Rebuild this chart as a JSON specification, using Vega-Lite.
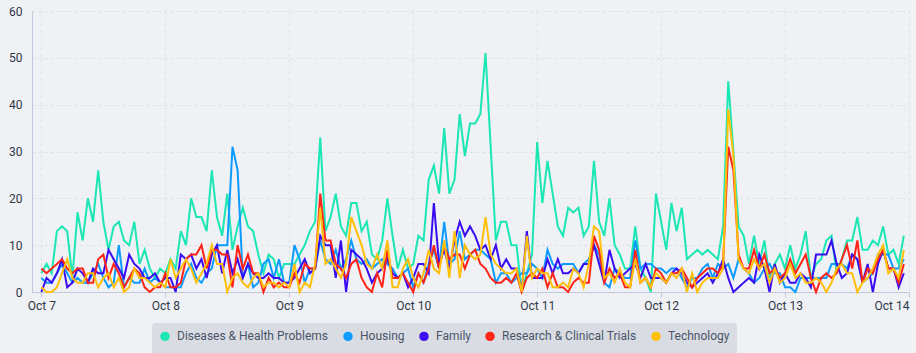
{
"$schema":"https://vega.github.io/schema/vega-lite/v6.json",
"width":877,"height":281,
"autosize":"none",
"padding":{"left":32,"top":11,"right":7,"bottom":61},
"background":"#EFF1F4",
"config":{"view":{"stroke":null},"font":"Roboto"},
"data":{"values":[
{"t":"2024-10-07T00:00","Diseases & Health Problems":4,"Housing":3,"Family":0,"Research & Clinical Trials":5,"Technology":1},
{"t":"2024-10-07T01:00","Diseases & Health Problems":6,"Housing":2,"Family":3,"Research & Clinical Trials":4,"Technology":0},
{"t":"2024-10-07T02:00","Diseases & Health Problems":4,"Housing":2,"Family":2,"Research & Clinical Trials":5,"Technology":0},
{"t":"2024-10-07T03:00","Diseases & Health Problems":13,"Housing":4,"Family":4,"Research & Clinical Trials":6,"Technology":1},
{"t":"2024-10-07T04:00","Diseases & Health Problems":14,"Housing":6,"Family":7,"Research & Clinical Trials":7,"Technology":4},
{"t":"2024-10-07T05:00","Diseases & Health Problems":13,"Housing":4,"Family":1,"Research & Clinical Trials":5,"Technology":7},
{"t":"2024-10-07T06:00","Diseases & Health Problems":3,"Housing":2,"Family":2,"Research & Clinical Trials":4,"Technology":3},
{"t":"2024-10-07T07:00","Diseases & Health Problems":17,"Housing":3,"Family":5,"Research & Clinical Trials":5,"Technology":2},
{"t":"2024-10-07T08:00","Diseases & Health Problems":11,"Housing":2,"Family":4,"Research & Clinical Trials":5,"Technology":2},
{"t":"2024-10-07T09:00","Diseases & Health Problems":20,"Housing":2,"Family":2,"Research & Clinical Trials":2,"Technology":4},
{"t":"2024-10-07T10:00","Diseases & Health Problems":15,"Housing":4,"Family":5,"Research & Clinical Trials":2,"Technology":4},
{"t":"2024-10-07T11:00","Diseases & Health Problems":26,"Housing":6,"Family":4,"Research & Clinical Trials":7,"Technology":1},
{"t":"2024-10-07T12:00","Diseases & Health Problems":15,"Housing":3,"Family":4,"Research & Clinical Trials":8,"Technology":3},
{"t":"2024-10-07T13:00","Diseases & Health Problems":9,"Housing":1,"Family":9,"Research & Clinical Trials":3,"Technology":4},
{"t":"2024-10-07T14:00","Diseases & Health Problems":14,"Housing":2,"Family":7,"Research & Clinical Trials":6,"Technology":1},
{"t":"2024-10-07T15:00","Diseases & Health Problems":15,"Housing":10,"Family":5,"Research & Clinical Trials":4,"Technology":3},
{"t":"2024-10-07T16:00","Diseases & Health Problems":11,"Housing":1,"Family":3,"Research & Clinical Trials":1,"Technology":0},
{"t":"2024-10-07T17:00","Diseases & Health Problems":10,"Housing":3,"Family":8,"Research & Clinical Trials":3,"Technology":1},
{"t":"2024-10-07T18:00","Diseases & Health Problems":15,"Housing":2,"Family":6,"Research & Clinical Trials":5,"Technology":5},
{"t":"2024-10-07T19:00","Diseases & Health Problems":6,"Housing":2,"Family":5,"Research & Clinical Trials":4,"Technology":3},
{"t":"2024-10-07T20:00","Diseases & Health Problems":9,"Housing":5,"Family":3,"Research & Clinical Trials":1,"Technology":3},
{"t":"2024-10-07T21:00","Diseases & Health Problems":5,"Housing":2,"Family":3,"Research & Clinical Trials":0,"Technology":2},
{"t":"2024-10-07T22:00","Diseases & Health Problems":3,"Housing":3,"Family":4,"Research & Clinical Trials":1,"Technology":1},
{"t":"2024-10-07T23:00","Diseases & Health Problems":5,"Housing":2,"Family":2,"Research & Clinical Trials":1,"Technology":2},
{"t":"2024-10-08T00:00","Diseases & Health Problems":4,"Housing":1,"Family":3,"Research & Clinical Trials":4,"Technology":1},
{"t":"2024-10-08T01:00","Diseases & Health Problems":7,"Housing":1,"Family":3,"Research & Clinical Trials":1,"Technology":7},
{"t":"2024-10-08T02:00","Diseases & Health Problems":5,"Housing":1,"Family":0,"Research & Clinical Trials":1,"Technology":3},
{"t":"2024-10-08T03:00","Diseases & Health Problems":13,"Housing":1,"Family":8,"Research & Clinical Trials":2,"Technology":5},
{"t":"2024-10-08T04:00","Diseases & Health Problems":10,"Housing":4,"Family":7,"Research & Clinical Trials":7,"Technology":7},
{"t":"2024-10-08T05:00","Diseases & Health Problems":20,"Housing":6,"Family":8,"Research & Clinical Trials":8,"Technology":5},
{"t":"2024-10-08T06:00","Diseases & Health Problems":16,"Housing":3,"Family":5,"Research & Clinical Trials":8,"Technology":2},
{"t":"2024-10-08T07:00","Diseases & Health Problems":16,"Housing":2,"Family":7,"Research & Clinical Trials":10,"Technology":4},
{"t":"2024-10-08T08:00","Diseases & Health Problems":13,"Housing":4,"Family":3,"Research & Clinical Trials":5,"Technology":6},
{"t":"2024-10-08T09:00","Diseases & Health Problems":26,"Housing":5,"Family":8,"Research & Clinical Trials":9,"Technology":10},
{"t":"2024-10-08T10:00","Diseases & Health Problems":16,"Housing":10,"Family":10,"Research & Clinical Trials":9,"Technology":6},
{"t":"2024-10-08T11:00","Diseases & Health Problems":12,"Housing":10,"Family":4,"Research & Clinical Trials":8,"Technology":6},
{"t":"2024-10-08T12:00","Diseases & Health Problems":21,"Housing":10,"Family":9,"Research & Clinical Trials":8,"Technology":0},
{"t":"2024-10-08T13:00","Diseases & Health Problems":9,"Housing":31,"Family":4,"Research & Clinical Trials":1,"Technology":3},
{"t":"2024-10-08T14:00","Diseases & Health Problems":14,"Housing":26,"Family":7,"Research & Clinical Trials":10,"Technology":4},
{"t":"2024-10-08T15:00","Diseases & Health Problems":18,"Housing":3,"Family":3,"Research & Clinical Trials":5,"Technology":2},
{"t":"2024-10-08T16:00","Diseases & Health Problems":14,"Housing":6,"Family":6,"Research & Clinical Trials":8,"Technology":1},
{"t":"2024-10-08T17:00","Diseases & Health Problems":13,"Housing":1,"Family":4,"Research & Clinical Trials":4,"Technology":3},
{"t":"2024-10-08T18:00","Diseases & Health Problems":8,"Housing":2,"Family":3,"Research & Clinical Trials":4,"Technology":4},
{"t":"2024-10-08T19:00","Diseases & Health Problems":4,"Housing":6,"Family":3,"Research & Clinical Trials":0,"Technology":1},
{"t":"2024-10-08T20:00","Diseases & Health Problems":8,"Housing":7,"Family":4,"Research & Clinical Trials":3,"Technology":2},
{"t":"2024-10-08T21:00","Diseases & Health Problems":7,"Housing":3,"Family":3,"Research & Clinical Trials":1,"Technology":2},
{"t":"2024-10-08T22:00","Diseases & Health Problems":3,"Housing":7,"Family":3,"Research & Clinical Trials":2,"Technology":1},
{"t":"2024-10-08T23:00","Diseases & Health Problems":6,"Housing":2,"Family":2,"Research & Clinical Trials":1,"Technology":2},
{"t":"2024-10-09T00:00","Diseases & Health Problems":6,"Housing":2,"Family":2,"Research & Clinical Trials":1,"Technology":1},
{"t":"2024-10-09T01:00","Diseases & Health Problems":6,"Housing":10,"Family":3,"Research & Clinical Trials":4,"Technology":6},
{"t":"2024-10-09T02:00","Diseases & Health Problems":8,"Housing":7,"Family":5,"Research & Clinical Trials":2,"Technology":0},
{"t":"2024-10-09T03:00","Diseases & Health Problems":10,"Housing":2,"Family":7,"Research & Clinical Trials":6,"Technology":2},
{"t":"2024-10-09T04:00","Diseases & Health Problems":13,"Housing":5,"Family":4,"Research & Clinical Trials":5,"Technology":1},
{"t":"2024-10-09T05:00","Diseases & Health Problems":15,"Housing":5,"Family":5,"Research & Clinical Trials":5,"Technology":6},
{"t":"2024-10-09T06:00","Diseases & Health Problems":33,"Housing":11,"Family":12,"Research & Clinical Trials":21,"Technology":18},
{"t":"2024-10-09T07:00","Diseases & Health Problems":13,"Housing":7,"Family":10,"Research & Clinical Trials":11,"Technology":6},
{"t":"2024-10-09T08:00","Diseases & Health Problems":16,"Housing":6,"Family":10,"Research & Clinical Trials":11,"Technology":7},
{"t":"2024-10-09T09:00","Diseases & Health Problems":21,"Housing":9,"Family":3,"Research & Clinical Trials":6,"Technology":5},
{"t":"2024-10-09T10:00","Diseases & Health Problems":14,"Housing":5,"Family":11,"Research & Clinical Trials":5,"Technology":3},
{"t":"2024-10-09T11:00","Diseases & Health Problems":12,"Housing":7,"Family":0,"Research & Clinical Trials":3,"Technology":6},
{"t":"2024-10-09T12:00","Diseases & Health Problems":19,"Housing":11,"Family":9,"Research & Clinical Trials":6,"Technology":16},
{"t":"2024-10-09T13:00","Diseases & Health Problems":19,"Housing":7,"Family":8,"Research & Clinical Trials":7,"Technology":13},
{"t":"2024-10-09T14:00","Diseases & Health Problems":13,"Housing":6,"Family":7,"Research & Clinical Trials":3,"Technology":10},
{"t":"2024-10-09T15:00","Diseases & Health Problems":15,"Housing":7,"Family":5,"Research & Clinical Trials":1,"Technology":6},
{"t":"2024-10-09T16:00","Diseases & Health Problems":8,"Housing":5,"Family":2,"Research & Clinical Trials":0,"Technology":5},
{"t":"2024-10-09T17:00","Diseases & Health Problems":7,"Housing":6,"Family":4,"Research & Clinical Trials":4,"Technology":8},
{"t":"2024-10-09T18:00","Diseases & Health Problems":11,"Housing":7,"Family":5,"Research & Clinical Trials":1,"Technology":5},
{"t":"2024-10-09T19:00","Diseases & Health Problems":20,"Housing":6,"Family":7,"Research & Clinical Trials":9,"Technology":11},
{"t":"2024-10-09T20:00","Diseases & Health Problems":12,"Housing":5,"Family":4,"Research & Clinical Trials":3,"Technology":1},
{"t":"2024-10-09T21:00","Diseases & Health Problems":5,"Housing":3,"Family":3,"Research & Clinical Trials":3,"Technology":1},
{"t":"2024-10-09T22:00","Diseases & Health Problems":9,"Housing":4,"Family":4,"Research & Clinical Trials":4,"Technology":5},
{"t":"2024-10-09T23:00","Diseases & Health Problems":5,"Housing":5,"Family":1,"Research & Clinical Trials":2,"Technology":7},
{"t":"2024-10-10T00:00","Diseases & Health Problems":6,"Housing":1,"Family":3,"Research & Clinical Trials":0,"Technology":3},
{"t":"2024-10-10T01:00","Diseases & Health Problems":12,"Housing":4,"Family":6,"Research & Clinical Trials":4,"Technology":1},
{"t":"2024-10-10T02:00","Diseases & Health Problems":11,"Housing":2,"Family":6,"Research & Clinical Trials":2,"Technology":4},
{"t":"2024-10-10T03:00","Diseases & Health Problems":24,"Housing":6,"Family":4,"Research & Clinical Trials":5,"Technology":9},
{"t":"2024-10-10T04:00","Diseases & Health Problems":27,"Housing":9,"Family":19,"Research & Clinical Trials":10,"Technology":5},
{"t":"2024-10-10T05:00","Diseases & Health Problems":21,"Housing":5,"Family":6,"Research & Clinical Trials":5,"Technology":4},
{"t":"2024-10-10T06:00","Diseases & Health Problems":35,"Housing":15,"Family":9,"Research & Clinical Trials":10,"Technology":11},
{"t":"2024-10-10T07:00","Diseases & Health Problems":21,"Housing":6,"Family":5,"Research & Clinical Trials":7,"Technology":3},
{"t":"2024-10-10T08:00","Diseases & Health Problems":24,"Housing":7,"Family":11,"Research & Clinical Trials":8,"Technology":13},
{"t":"2024-10-10T09:00","Diseases & Health Problems":38,"Housing":13,"Family":15,"Research & Clinical Trials":8,"Technology":3},
{"t":"2024-10-10T10:00","Diseases & Health Problems":29,"Housing":7,"Family":12,"Research & Clinical Trials":5,"Technology":10},
{"t":"2024-10-10T11:00","Diseases & Health Problems":36,"Housing":8,"Family":14,"Research & Clinical Trials":8,"Technology":8},
{"t":"2024-10-10T12:00","Diseases & Health Problems":36,"Housing":9,"Family":12,"Research & Clinical Trials":9,"Technology":7},
{"t":"2024-10-10T13:00","Diseases & Health Problems":38,"Housing":9,"Family":9,"Research & Clinical Trials":6,"Technology":8},
{"t":"2024-10-10T14:00","Diseases & Health Problems":51,"Housing":8,"Family":10,"Research & Clinical Trials":5,"Technology":16},
{"t":"2024-10-10T15:00","Diseases & Health Problems":31,"Housing":7,"Family":7,"Research & Clinical Trials":3,"Technology":8},
{"t":"2024-10-10T16:00","Diseases & Health Problems":11,"Housing":2,"Family":10,"Research & Clinical Trials":2,"Technology":6},
{"t":"2024-10-10T17:00","Diseases & Health Problems":15,"Housing":4,"Family":5,"Research & Clinical Trials":2,"Technology":5},
{"t":"2024-10-10T18:00","Diseases & Health Problems":15,"Housing":4,"Family":7,"Research & Clinical Trials":3,"Technology":4},
{"t":"2024-10-10T19:00","Diseases & Health Problems":10,"Housing":2,"Family":5,"Research & Clinical Trials":2,"Technology":4},
{"t":"2024-10-10T20:00","Diseases & Health Problems":10,"Housing":3,"Family":5,"Research & Clinical Trials":4,"Technology":5},
{"t":"2024-10-10T21:00","Diseases & Health Problems":0,"Housing":4,"Family":0,"Research & Clinical Trials":0,"Technology":0},
{"t":"2024-10-10T22:00","Diseases & Health Problems":4,"Housing":4,"Family":13,"Research & Clinical Trials":3,"Technology":12},
{"t":"2024-10-10T23:00","Diseases & Health Problems":8,"Housing":6,"Family":3,"Research & Clinical Trials":4,"Technology":3},
{"t":"2024-10-11T00:00","Diseases & Health Problems":32,"Housing":5,"Family":3,"Research & Clinical Trials":3,"Technology":5},
{"t":"2024-10-11T01:00","Diseases & Health Problems":19,"Housing":3,"Family":3,"Research & Clinical Trials":5,"Technology":4},
{"t":"2024-10-11T02:00","Diseases & Health Problems":28,"Housing":9,"Family":7,"Research & Clinical Trials":1,"Technology":4},
{"t":"2024-10-11T03:00","Diseases & Health Problems":21,"Housing":6,"Family":4,"Research & Clinical Trials":4,"Technology":1},
{"t":"2024-10-11T04:00","Diseases & Health Problems":14,"Housing":5,"Family":7,"Research & Clinical Trials":1,"Technology":1},
{"t":"2024-10-11T05:00","Diseases & Health Problems":12,"Housing":6,"Family":4,"Research & Clinical Trials":1,"Technology":2},
{"t":"2024-10-11T06:00","Diseases & Health Problems":18,"Housing":6,"Family":4,"Research & Clinical Trials":0,"Technology":1},
{"t":"2024-10-11T07:00","Diseases & Health Problems":17,"Housing":6,"Family":5,"Research & Clinical Trials":2,"Technology":5},
{"t":"2024-10-11T08:00","Diseases & Health Problems":18,"Housing":4,"Family":4,"Research & Clinical Trials":3,"Technology":4},
{"t":"2024-10-11T09:00","Diseases & Health Problems":12,"Housing":6,"Family":6,"Research & Clinical Trials":2,"Technology":1},
{"t":"2024-10-11T10:00","Diseases & Health Problems":14,"Housing":7,"Family":6,"Research & Clinical Trials":2,"Technology":6},
{"t":"2024-10-11T11:00","Diseases & Health Problems":28,"Housing":10,"Family":10,"Research & Clinical Trials":12,"Technology":14},
{"t":"2024-10-11T12:00","Diseases & Health Problems":15,"Housing":8,"Family":6,"Research & Clinical Trials":9,"Technology":13},
{"t":"2024-10-11T13:00","Diseases & Health Problems":12,"Housing":2,"Family":2,"Research & Clinical Trials":2,"Technology":3},
{"t":"2024-10-11T14:00","Diseases & Health Problems":20,"Housing":1,"Family":9,"Research & Clinical Trials":5,"Technology":4},
{"t":"2024-10-11T15:00","Diseases & Health Problems":10,"Housing":5,"Family":5,"Research & Clinical Trials":3,"Technology":2},
{"t":"2024-10-11T16:00","Diseases & Health Problems":8,"Housing":4,"Family":3,"Research & Clinical Trials":4,"Technology":5},
{"t":"2024-10-11T17:00","Diseases & Health Problems":5,"Housing":3,"Family":4,"Research & Clinical Trials":1,"Technology":2},
{"t":"2024-10-11T18:00","Diseases & Health Problems":5,"Housing":3,"Family":5,"Research & Clinical Trials":1,"Technology":1},
{"t":"2024-10-11T19:00","Diseases & Health Problems":14,"Housing":11,"Family":6,"Research & Clinical Trials":9,"Technology":7},
{"t":"2024-10-11T20:00","Diseases & Health Problems":5,"Housing":5,"Family":3,"Research & Clinical Trials":2,"Technology":2},
{"t":"2024-10-11T21:00","Diseases & Health Problems":3,"Housing":6,"Family":6,"Research & Clinical Trials":3,"Technology":3},
{"t":"2024-10-11T22:00","Diseases & Health Problems":0,"Housing":6,"Family":3,"Research & Clinical Trials":1,"Technology":1},
{"t":"2024-10-11T23:00","Diseases & Health Problems":21,"Housing":5,"Family":3,"Research & Clinical Trials":5,"Technology":4},
{"t":"2024-10-12T00:00","Diseases & Health Problems":15,"Housing":5,"Family":3,"Research & Clinical Trials":4,"Technology":3},
{"t":"2024-10-12T01:00","Diseases & Health Problems":9,"Housing":4,"Family":2,"Research & Clinical Trials":2,"Technology":2},
{"t":"2024-10-12T02:00","Diseases & Health Problems":19,"Housing":5,"Family":4,"Research & Clinical Trials":4,"Technology":4},
{"t":"2024-10-12T03:00","Diseases & Health Problems":13,"Housing":5,"Family":5,"Research & Clinical Trials":4,"Technology":3},
{"t":"2024-10-12T04:00","Diseases & Health Problems":18,"Housing":3,"Family":4,"Research & Clinical Trials":5,"Technology":5},
{"t":"2024-10-12T05:00","Diseases & Health Problems":7,"Housing":1,"Family":2,"Research & Clinical Trials":3,"Technology":0},
{"t":"2024-10-12T06:00","Diseases & Health Problems":8,"Housing":3,"Family":1,"Research & Clinical Trials":1,"Technology":4},
{"t":"2024-10-12T07:00","Diseases & Health Problems":9,"Housing":3,"Family":2,"Research & Clinical Trials":3,"Technology":0},
{"t":"2024-10-12T08:00","Diseases & Health Problems":8,"Housing":5,"Family":3,"Research & Clinical Trials":4,"Technology":2},
{"t":"2024-10-12T09:00","Diseases & Health Problems":9,"Housing":6,"Family":4,"Research & Clinical Trials":5,"Technology":3},
{"t":"2024-10-12T10:00","Diseases & Health Problems":8,"Housing":3,"Family":2,"Research & Clinical Trials":5,"Technology":3},
{"t":"2024-10-12T11:00","Diseases & Health Problems":7,"Housing":6,"Family":4,"Research & Clinical Trials":4,"Technology":3},
{"t":"2024-10-12T12:00","Diseases & Health Problems":14,"Housing":5,"Family":7,"Research & Clinical Trials":6,"Technology":5},
{"t":"2024-10-12T13:00","Diseases & Health Problems":45,"Housing":6,"Family":3,"Research & Clinical Trials":31,"Technology":39},
{"t":"2024-10-12T14:00","Diseases & Health Problems":30,"Housing":3,"Family":0,"Research & Clinical Trials":26,"Technology":29},
{"t":"2024-10-12T15:00","Diseases & Health Problems":14,"Housing":7,"Family":1,"Research & Clinical Trials":8,"Technology":7},
{"t":"2024-10-12T16:00","Diseases & Health Problems":12,"Housing":5,"Family":2,"Research & Clinical Trials":5,"Technology":5},
{"t":"2024-10-12T17:00","Diseases & Health Problems":6,"Housing":4,"Family":3,"Research & Clinical Trials":5,"Technology":4},
{"t":"2024-10-12T18:00","Diseases & Health Problems":12,"Housing":2,"Family":2,"Research & Clinical Trials":9,"Technology":7},
{"t":"2024-10-12T19:00","Diseases & Health Problems":6,"Housing":3,"Family":8,"Research & Clinical Trials":5,"Technology":5},
{"t":"2024-10-12T20:00","Diseases & Health Problems":11,"Housing":5,"Family":5,"Research & Clinical Trials":8,"Technology":6},
{"t":"2024-10-12T21:00","Diseases & Health Problems":3,"Housing":6,"Family":0,"Research & Clinical Trials":4,"Technology":2},
{"t":"2024-10-12T22:00","Diseases & Health Problems":6,"Housing":4,"Family":6,"Research & Clinical Trials":5,"Technology":5},
{"t":"2024-10-12T23:00","Diseases & Health Problems":8,"Housing":4,"Family":2,"Research & Clinical Trials":3,"Technology":2},
{"t":"2024-10-13T00:00","Diseases & Health Problems":5,"Housing":1,"Family":4,"Research & Clinical Trials":4,"Technology":3},
{"t":"2024-10-13T01:00","Diseases & Health Problems":10,"Housing":1,"Family":2,"Research & Clinical Trials":7,"Technology":6},
{"t":"2024-10-13T02:00","Diseases & Health Problems":5,"Housing":0,"Family":2,"Research & Clinical Trials":4,"Technology":3},
{"t":"2024-10-13T03:00","Diseases & Health Problems":8,"Housing":3,"Family":4,"Research & Clinical Trials":6,"Technology":4},
{"t":"2024-10-13T04:00","Diseases & Health Problems":13,"Housing":3,"Family":3,"Research & Clinical Trials":8,"Technology":2},
{"t":"2024-10-13T05:00","Diseases & Health Problems":3,"Housing":3,"Family":1,"Research & Clinical Trials":3,"Technology":2},
{"t":"2024-10-13T06:00","Diseases & Health Problems":6,"Housing":3,"Family":8,"Research & Clinical Trials":0,"Technology":3},
{"t":"2024-10-13T07:00","Diseases & Health Problems":7,"Housing":3,"Family":8,"Research & Clinical Trials":3,"Technology":2},
{"t":"2024-10-13T08:00","Diseases & Health Problems":11,"Housing":3,"Family":8,"Research & Clinical Trials":4,"Technology":0},
{"t":"2024-10-13T09:00","Diseases & Health Problems":12,"Housing":6,"Family":11,"Research & Clinical Trials":3,"Technology":2},
{"t":"2024-10-13T10:00","Diseases & Health Problems":4,"Housing":6,"Family":6,"Research & Clinical Trials":4,"Technology":5},
{"t":"2024-10-13T11:00","Diseases & Health Problems":7,"Housing":6,"Family":3,"Research & Clinical Trials":7,"Technology":6},
{"t":"2024-10-13T12:00","Diseases & Health Problems":11,"Housing":5,"Family":4,"Research & Clinical Trials":10,"Technology":4},
{"t":"2024-10-13T13:00","Diseases & Health Problems":11,"Housing":8,"Family":8,"Research & Clinical Trials":5,"Technology":4},
{"t":"2024-10-13T14:00","Diseases & Health Problems":16,"Housing":7,"Family":7,"Research & Clinical Trials":11,"Technology":0},
{"t":"2024-10-13T15:00","Diseases & Health Problems":9,"Housing":2,"Family":2,"Research & Clinical Trials":2,"Technology":2},
{"t":"2024-10-13T16:00","Diseases & Health Problems":9,"Housing":3,"Family":6,"Research & Clinical Trials":5,"Technology":3},
{"t":"2024-10-13T17:00","Diseases & Health Problems":11,"Housing":4,"Family":0,"Research & Clinical Trials":4,"Technology":5},
{"t":"2024-10-13T18:00","Diseases & Health Problems":10,"Housing":8,"Family":6,"Research & Clinical Trials":7,"Technology":8},
{"t":"2024-10-13T19:00","Diseases & Health Problems":14,"Housing":8,"Family":9,"Research & Clinical Trials":9,"Technology":10},
{"t":"2024-10-13T20:00","Diseases & Health Problems":8,"Housing":8,"Family":5,"Research & Clinical Trials":5,"Technology":4},
{"t":"2024-10-13T21:00","Diseases & Health Problems":9,"Housing":5,"Family":5,"Research & Clinical Trials":5,"Technology":5},
{"t":"2024-10-13T22:00","Diseases & Health Problems":6,"Housing":5,"Family":1,"Research & Clinical Trials":2,"Technology":3},
{"t":"2024-10-13T23:00","Diseases & Health Problems":12,"Housing":7,"Family":4,"Research & Clinical Trials":6,"Technology":9}
]},
"transform":[{"fold":["Diseases & Health Problems","Housing","Family","Research & Clinical Trials","Technology"],"as":["series","value"]}],
"mark":{"type":"line","strokeWidth":2,"strokeJoin":"miter"},
"encoding":{
"x":{"field":"t","type":"temporal",
 "scale":{"domain":[{"year":2024,"month":10,"date":6,"hours":22,"minutes":11},{"year":2024,"month":10,"date":14,"hours":0}]},
 "axis":{"title":null,"format":"%b %-d","tickCount":{"interval":"day","step":1},"labelFlush":true,"grid":true,"gridDash":[3,3],"gridColor":"#DCE0E7","domainColor":"#BFC9DB","tickColor":"#BFC9DB","tickSize":5,"labelPadding":3,"labelFont":"Roboto","labelFontSize":12,"labelColor":"#2E3748"}},
"y":{"field":"value","type":"quantitative",
 "scale":{"domain":[0,60]},
 "axis":{"title":null,"values":[0,10,20,30,40,50,60],"tickSize":0,"labelPadding":10,"grid":true,"gridDash":[3,3],"gridColor":"#DCE0E7","domainColor":"#BFC9DB","labelFont":"Roboto","labelFontSize":12,"labelColor":"#2E3748"}},
"color":{"field":"series","type":"nominal",
 "scale":{"domain":["Diseases & Health Problems","Housing","Family","Research & Clinical Trials","Technology"],"range":["#1BE6B4","#0D9BFF","#3A0CF2","#FF2318","#FFBF0A"]},
 "legend":{"title":null,"orient":"none","direction":"horizontal","legendX":120,"legendY":312,"symbolType":"circle","symbolSize":20,"symbolStrokeWidth":5,"labelFont":"Roboto","labelFontSize":12,"labelColor":"#4A5468","labelOffset":6,"columnPadding":6,"fillColor":"#D9DDE3","padding":7,"cornerRadius":3}}
}
}
